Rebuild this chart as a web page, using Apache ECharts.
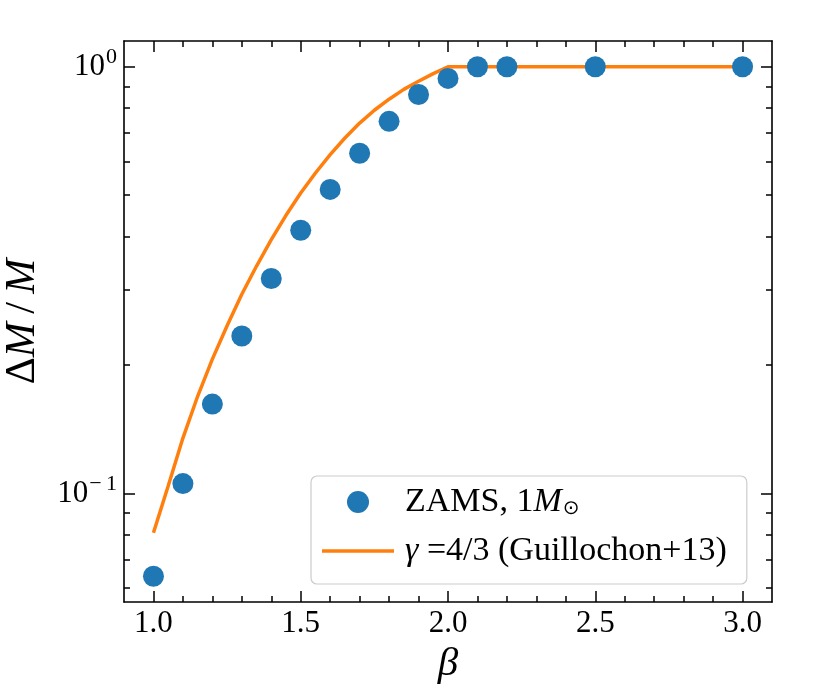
<!DOCTYPE html>
<html>
<head>
<meta charset="utf-8">
<script src="https://cdn.jsdelivr.net/npm/echarts@6/dist/echarts.min.js"></script>
<style>
html,body{margin:0;padding:0;background:#fff;}
#chart{width:830px;height:692px;}
</style>
</head>
<body>
<div id="chart"></div>
<script>
// ZAMS 1 Msun simulation points
const betaZams = [1.0, 1.1, 1.2, 1.3, 1.4, 1.5, 1.6, 1.7, 1.8, 1.9, 2.0, 2.1, 2.2, 2.5, 3.0];
const dmZams = [0.064, 0.1055, 0.162, 0.234, 0.319, 0.414, 0.516, 0.627, 0.745, 0.861, 0.939, 1.0, 1.0, 1.0, 1.0];
// gamma = 4/3 curve (Guillochon+13)
const betaFit = [1.0, 1.05, 1.1, 1.15, 1.2, 1.25, 1.3, 1.35, 1.4, 1.45, 1.5, 1.55, 1.6, 1.65, 1.7, 1.75, 1.8, 1.85, 1.9, 1.95, 2.0, 3.0];
const dmFit = [0.0809, 0.1042, 0.1349, 0.169, 0.2065, 0.2472, 0.2931, 0.3412, 0.3936, 0.4487, 0.5058, 0.5636, 0.6223, 0.6808, 0.7379, 0.7907, 0.8395, 0.8851, 0.9247, 0.9638, 1.0, 1.0];
// ticks
const xMajorTicks = [1.0, 1.5, 2.0, 2.5, 3.0];
const xMinorTicks = [1.1, 1.2, 1.3, 1.4, 1.6, 1.7, 1.8, 1.9, 2.1, 2.2, 2.3, 2.4, 2.6, 2.7, 2.8, 2.9];
const yMajorTicks = [0.1, 1.0];
const yMinorTicks = [0.06, 0.07, 0.08, 0.09, 0.2, 0.3, 0.4, 0.5, 0.6, 0.7, 0.8, 0.9];

const FONT = "'Liberation Serif', 'DejaVu Serif', serif";
const chart = echarts.init(document.getElementById('chart'));

const tickStyle = {color: '#000', width: 1.5};
function xAx(pos, ticks, len, showLabel, showLine) {
  return {
    type: 'value', min: 0.9, max: 3.1, position: pos,
    axisLine: {show: showLine, lineStyle: {color: '#000', width: 1.6}},
    axisTick: {show: true, inside: true, length: len, customValues: ticks, lineStyle: tickStyle},
    axisLabel: showLabel ? {show: true, customValues: ticks, margin: 6, color: '#000',
      fontFamily: FONT, fontSize: 31, formatter: v => v.toFixed(1)} : {show: false},
    splitLine: {show: false}
  };
}
function yAx(pos, ticks, len, showLabel, showLine) {
  return {
    type: 'log', logBase: 10, min: 0.0557, max: 1.149, position: pos,
    axisLine: {show: showLine, lineStyle: {color: '#000', width: 1.6}},
    axisTick: {show: true, inside: true, length: len, customValues: ticks, lineStyle: tickStyle},
    axisLabel: showLabel ? {show: true, customValues: ticks, margin: 7, color: '#000',
      formatter: v => '{b|10}{s|' + String(Math.round(Math.log10(v))).replace('-', '\u2212\u2009') + '}',
      rich: {
        b: {fontFamily: FONT, fontSize: 31, lineHeight: 31, color: '#000', verticalAlign: 'bottom'},
        s: {fontFamily: FONT, fontSize: 22, lineHeight: 22, color: '#000', verticalAlign: 'bottom', padding: [0, 0, 14, 1]}
      }} : {show: false},
    splitLine: {show: false}
  };
}

const xA = [xAx('bottom', xMajorTicks, 11, true, true), xAx('bottom', xMinorTicks, 6, false, false),
            xAx('top', xMajorTicks, 11, false, true), xAx('top', xMinorTicks, 6, false, false)];
xA[0].name = '{i|\u03b2}';
xA[0].nameLocation = 'middle';
xA[0].nameGap = 42;
xA[0].nameTextStyle = {rich: {i: {fontFamily: FONT, fontStyle: 'italic', fontSize: 41, color: '#000'}}};

const yA = [yAx('left', yMajorTicks, 11, true, true), yAx('left', yMinorTicks, 6, false, false),
            yAx('right', yMajorTicks, 11, false, true), yAx('right', yMinorTicks, 6, false, false)];
yA[0].name = '{r|\u0394}{i|M}{r|\u2009/\u2009}{i|M}';
yA[0].nameLocation = 'middle';
yA[0].nameGap = 80;
yA[0].nameTextStyle = {rich: {
  r: {fontFamily: FONT, fontSize: 42, color: '#000'},
  i: {fontFamily: FONT, fontStyle: 'italic', fontSize: 42, color: '#000'}
}};

const option = {
  animation: false,
  backgroundColor: '#fff',
  grid: {left: 124, top: 41, right: 58, bottom: 90, containLabel: false, outerBoundsMode: 'none'},
  xAxis: xA,
  yAxis: yA,
  legend: {
    orient: 'vertical', left: 311, top: 476,
    padding: [9, 20, 16, 11],
    itemWidth: 72, itemHeight: 22, itemGap: 15,
    backgroundColor: '#fff',
    borderColor: '#cccccc', borderWidth: 1.2, borderRadius: 6,
    data: [
      {name: 'zams', icon: 'circle'},
      {name: 'guill', icon: 'path://M0,0 L72,0 L72,3.5 L0,3.5 Z', itemStyle: {color: '#ff7f0e'}}
    ],
    formatter: name => name === 'zams'
      ? '{r|ZAMS, 1}{i|M}{sub|\u2299}'
      : '{i|\u03b3}{r| =4/3 (Guillochon+13)}',
    textStyle: {
      padding: [0, 0, 0, 6],
      rich: {
        r: {fontFamily: FONT, fontSize: 34, lineHeight: 34, color: '#000', verticalAlign: 'top'},
        i: {fontFamily: FONT, fontStyle: 'italic', fontSize: 34, lineHeight: 34, color: '#000', verticalAlign: 'top'},
        sub: {fontFamily: "'DejaVu Sans', sans-serif", fontSize: 20, lineHeight: 20, color: '#000', verticalAlign: 'top', padding: [14, 0, 0, 1]}
      }
    }
  },
  series: [
    {
      name: 'guill', type: 'line', xAxisIndex: 0, yAxisIndex: 0,
      data: betaFit.map((b, i) => [b, dmFit[i]]),
      symbol: 'none', showSymbol: false, smooth: false,
      lineStyle: {color: '#ff7f0e', width: 3.5}, itemStyle: {color: '#ff7f0e'}, z: 2
    },
    {
      name: 'zams', type: 'scatter', xAxisIndex: 0, yAxisIndex: 0,
      data: betaZams.map((b, i) => [b, dmZams[i]]),
      symbol: 'circle', symbolSize: 21,
      itemStyle: {color: '#1f77b4', opacity: 1}, z: 3
    }
  ]
};
chart.setOption(option);
</script>
</body>
</html>
